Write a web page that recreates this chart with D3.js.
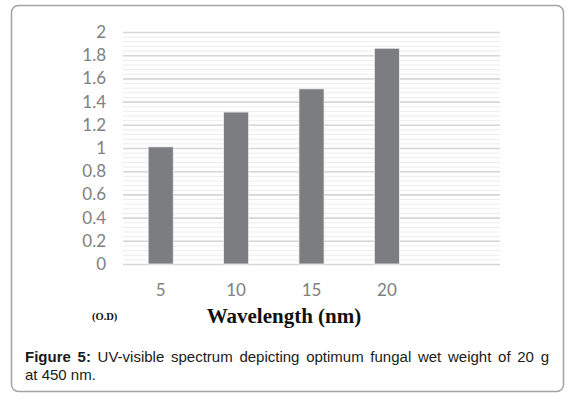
<!DOCTYPE html>
<html>
<head>
<meta charset="utf-8">
<script src="https://cdn.jsdelivr.net/npm/d3@7"></script>
<style>
  html, body { margin: 0; padding: 0; background: #fff; }
  svg { display: block; }
</style>
</head>
<body>
<div id="chart"></div>
<script>
// ---------------------------------------------------------------------------
// Data
// ---------------------------------------------------------------------------
const categories = ["5", "10", "15", "20"];
const odValues = [1.01, 1.31, 1.51, 1.86];
const yTicks = [0, 0.2, 0.4, 0.6, 0.8, 1, 1.2, 1.4, 1.6, 1.8, 2];
const xTitle = "Wavelength (nm)";
const yTitle = "(O.D)";
const captionBold = "Figure 5:";
const captionLine1 = " UV-visible spectrum depicting optimum fungal wet weight of 20 g";
const captionLine2 = "at 450 nm.";

const W = 571, H = 397;
const plot = {left: 123, right: 500, top: 32, bottom: 264};

const svg = d3.select("#chart")
  .append("svg")
  .attr("width", W)
  .attr("height", H);

// frame round the whole figure
svg.append("rect")
  .attr("x", 11.5).attr("y", 5.5)
  .attr("width", 552).attr("height", 386)
  .attr("rx", 7)
  .attr("fill", "#fff")
  .attr("stroke", "#a3a3a3")
  .attr("stroke-width", 1.5);

// Excel leaves one empty slot on the right
const xScale = d3.scaleBand()
  .domain(categories.concat(["_blank"]))
  .range([plot.left, plot.right])
  .padding(0);

const yScale = d3.scaleLinear()
  .domain([0, 2])
  .range([plot.bottom, plot.top]);

// minor grid
svg.append("g")
  .attr("class", "grid grid--minor")
  .call(d3.axisLeft(yScale)
    .tickValues(d3.range(0, 2.001, 0.04).map(v => +v.toFixed(2)))
    .tickSize(-(plot.right - plot.left))
    .tickFormat(() => ""))
  .attr("transform", "translate(" + plot.left + ",0)")
  .call(g => g.select(".domain").remove())
  .call(g => g.selectAll("line").attr("stroke", "#ececec").attr("stroke-width", 1));

// major grid
svg.append("g")
  .attr("class", "grid grid--major")
  .attr("transform", "translate(" + plot.left + ",0)")
  .call(d3.axisLeft(yScale)
    .tickValues(yTicks)
    .tickSize(-(plot.right - plot.left))
    .tickFormat(() => ""))
  .call(g => g.select(".domain").remove())
  .call(g => g.selectAll("line").attr("stroke", "#d6d6d6").attr("stroke-width", 1.6));

// bars
const barW = xScale.bandwidth() / 3;
svg.append("g")
  .selectAll("rect")
  .data(categories)
  .join("rect")
  .attr("x", (d) => xScale(d) + barW)
  .attr("y", (d, i) => yScale(odValues[i]))
  .attr("width", barW)
  .attr("height", (d, i) => yScale(0) - yScale(odValues[i]))
  .attr("fill", "#7c7d81")
  .attr("stroke", "#f2f2f2")
  .attr("stroke-width", 0.8);

// y axis labels
svg.append("g")
  .attr("class", "axis axis--y")
  .attr("transform", "translate(" + (plot.left - 17) + ",0)")
  .call(d3.axisLeft(yScale).tickValues(yTicks).tickSize(0).tickPadding(0)
    .tickFormat(d3.format("~g")))
  .call(g => g.select(".domain").remove())
  .call(g => g.selectAll("text")
    .attr("font-family", "Lato, 'Open Sans', sans-serif")
    .attr("font-size", 17)
    .attr("fill", "#808080"));

// x axis labels
svg.append("g")
  .attr("class", "axis axis--x")
  .attr("transform", "translate(0," + (plot.bottom + 20) + ")")
  .call(d3.axisBottom(xScale).tickValues(categories).tickSize(0).tickPadding(0))
  .call(g => g.select(".domain").remove())
  .call(g => g.selectAll("text")
    .attr("font-family", "Lato, 'Open Sans', sans-serif")
    .attr("font-size", 17)
    .attr("fill", "#808080"));

// titles
svg.append("text")
  .attr("x", 92).attr("y", 319.5)
  .attr("font-family", "'Liberation Serif', 'Times New Roman', serif")
  .attr("font-weight", "bold")
  .attr("font-size", 10.5)
  .attr("fill", "#111")
  .text(yTitle);

svg.append("text")
  .attr("x", 284).attr("y", 323)
  .attr("text-anchor", "middle")
  .attr("font-family", "'Liberation Serif', 'Times New Roman', serif")
  .attr("font-weight", "bold")
  .attr("font-size", 21)
  .attr("fill", "#111")
  .text(xTitle);

// caption, first line justified to the frame by widening the word gaps
const cap = svg.append("g")
  .attr("font-family", "'Liberation Sans', Arial, sans-serif")
  .attr("font-size", 15)
  .attr("fill", "#1a1a1a");

const line1 = cap.append("text")
  .attr("x", 25).attr("y", 362);
line1.append("tspan").attr("font-weight", "bold").text(captionBold);
line1.append("tspan").text(captionLine1);

const natural = line1.node().getComputedTextLength();
const gaps = (captionBold + captionLine1).split(" ").length - 1;
line1.attr("word-spacing", Math.max(0, (524 - natural) / gaps));

cap.append("text")
  .attr("x", 25).attr("y", 380)
  .text(captionLine2);
</script>
</body>
</html>
